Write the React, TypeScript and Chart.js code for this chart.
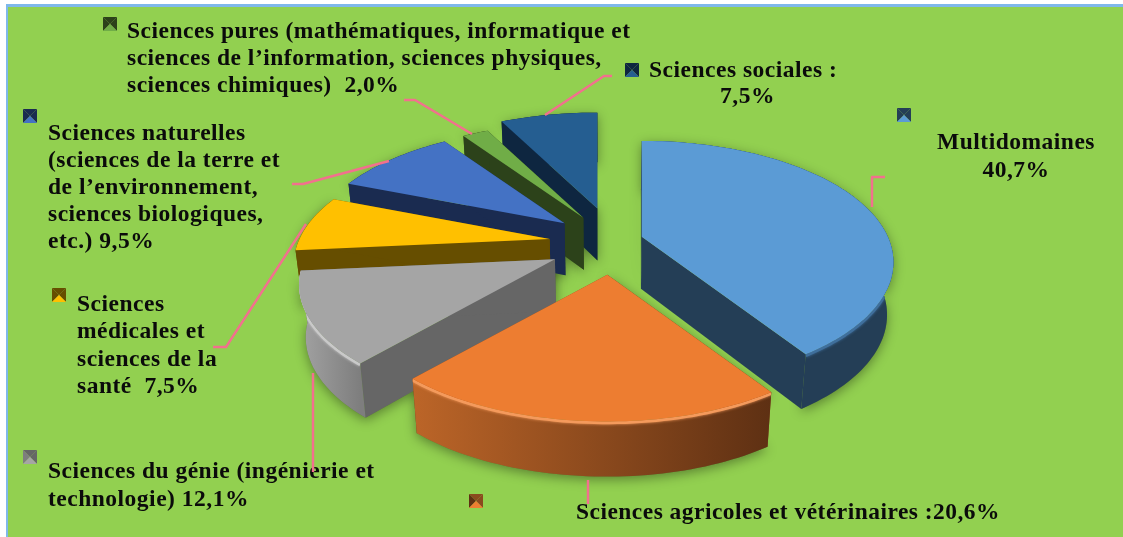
import React, { useEffect, useRef } from "react";
import { Chart, PieController, ArcElement } from "chart.js";

// ---- data -------------------------------------------------------------
const categories = [
  "Multidomaines",
  "Sciences agricoles et vétérinaires",
  "Sciences du génie (ingénierie et technologie)",
  "Sciences médicales et sciences de la santé",
  "Sciences naturelles",
  "Sciences pures",
  "Sciences sociales",
];
const values = [40.7, 20.6, 12.1, 7.5, 9.5, 2.0, 7.5];

const labelLines = [
  ["Multidomaines", "{v}"],
  ["Sciences agricoles et vétérinaires :{v}"],
  ["Sciences du génie (ingénierie et", "technologie) {v}"],
  ["Sciences", "médicales et", "sciences de la", "santé  {v}"],
  ["Sciences naturelles", "(sciences de la terre et", "de l’environnement,", "sciences biologiques,", "etc.) {v}"],
  ["Sciences pures (mathématiques, informatique et", "sciences de l’information, sciences physiques,", "sciences chimiques)  {v}"],
  ["Sciences sociales :", "{v}"],
];

// ---- styles -----------------------------------------------------------
const topColors = ["#5B9BD5", "#ED7D31", "#A5A5A5", "#FFC000", "#4472C4", "#70AD47", "#255E91"];
const cutColors = ["#243E56", "#8A4A1E", "#666666", "#664E00", "#1A2B50", "#2C421A", "#0E2640"];
const wallFrom = ["#243E56", "#BC6528", "#A3A3A3", "#664E00", "#1A2B50", "#2C421A", "#0E2640"];
const wallTo = ["#243E56", "#5E3013", "#7E7E7E", "#664E00", "#1A2B50", "#2C421A", "#0E2640"];
const rimColors = ["#3F6F9C", "#F49A5C", "#C9C9C9", null, null, null, null];
const explosion = [39, 52, 57, 55, 54, 50, 60];

const PAGE_GREEN = "#92D050";
const FRAME_BLUE = "#7FB8EA";
const LEADER = "#F2708E";

const RX = 246;
const RX_LEFT = 1.017;
const RY = 116;
const PERSPECTIVE = 0.21;
const DEPTH = 52;
const PULL_Y = 0.6;
const PULL_SKEW = 0.13;

const labelPlacement = [
  { x: 1016, y: 149, leading: 28, align: "center", width: 0 },
  { x: 576, y: 519, leading: 27, align: "left", width: 424 },
  { x: 48, y: 478, leading: 28, align: "left", width: 0 },
  { x: 77, y: 311, leading: 27.3, align: "left", width: 0 },
  { x: 48, y: 140, leading: 27, align: "left", width: 0 },
  { x: 127, y: 38, leading: 27, align: "left", width: 0 },
  { x: 649, y: 77, leading: 26, align: "left", width: 0 },
];
const markers = [[897, 108], [469, 494], [23, 450], [52, 288], [23, 109], [103, 17], [625, 63]];
const leaders = [
  [[872, 207], [872, 177], [885, 177]],
  [[588, 480], [588, 504]],
  [[313, 373], [313, 472]],
  [[213, 347], [226, 347], [306, 224]],
  [[292, 184], [303, 184], [389, 161]],
  [[404, 100], [415, 100], [472, 134]],
  [[545, 115], [604, 76], [612, 76]],
];

const FONT = 'bold 23.5px "Liberation Serif"';
const fmt = (v: number) => v.toFixed(1).replace(".", ",") + "%";

// ---- projection of the pie's own arcs onto a tilted plane -------------
function sliceOutline(arc: any) {
  const { x, y, startAngle, endAngle } = arc.getProps(["x", "y", "startAngle", "endAngle"]);
  const mid = (startAngle + endAngle) / 2;
  const off = arc.options.offset || 0;
  const ax = x + off * Math.cos(mid) + off * PULL_SKEW * Math.sin(mid) ** 2;
  const ay = y + off * PULL_Y * Math.sin(mid);
  const project = (a: number) => {
    const X = Math.cos(a);
    const Y = Math.sin(a);
    const s = 1 / (1 - PERSPECTIVE * Y);
    return { x: ax + RX * X * s * (X < 0 ? RX_LEFT : 1), y: ay + RY * Y * s, s };
  };
  const n = Math.max(4, Math.ceil((endAngle - startAngle) * 40));
  const rim = [];
  for (let i = 0; i <= n; i++) rim.push(project(startAngle + ((endAngle - startAngle) * i) / n));
  return { apex: { x: ax, y: ay, s: 1 }, rim, mid, cx: x };
}

function drop(p: any, cx: number) {
  return { x: p.x - (p.x - cx) * 0.022, y: p.y + DEPTH * Math.pow(p.s, 0.25), s: p.s };
}

function trace(ctx: CanvasRenderingContext2D, pts: any[], close = true) {
  ctx.beginPath();
  pts.forEach((p, i) => (i ? ctx.lineTo(p.x, p.y) : ctx.moveTo(p.x, p.y)));
  if (close) ctx.closePath();
}

class Pie3DController extends PieController {
  static id = "pie3d";
  static defaults = PieController.defaults;
  static overrides = PieController.overrides;
  draw() {
    const ctx = this.chart.ctx;
    const arcs: any[] = this.getMeta().data as any[];
    const shapes = arcs.map((arc, i) => ({ i, ...sliceOutline(arc) }));

    // soft ground shadow
    ctx.save();
    ctx.shadowColor = "rgba(0,0,0,0.38)";
    ctx.shadowBlur = 12;
    ctx.shadowOffsetY = 3;
    ctx.fillStyle = "rgba(90,130,50,1)";
    shapes.forEach((s) => {
      const low = s.rim.map((p) => drop(p, s.cx));
      trace(ctx, [s.apex, ...s.rim, ...low.reverse(), drop(s.apex, s.cx)]);
      ctx.fill();
    });
    ctx.restore();

    // back-to-front
    [...shapes]
      .sort((a, b) => Math.sin(a.mid) - Math.sin(b.mid))
      .forEach((s) => {
        const { i, apex, rim } = s;
        const low = rim.map((p) => drop(p, s.cx));
        const lowApex = drop(apex, s.cx);
        ctx.lineJoin = "round";
        // cut faces
        ctx.fillStyle = cutColors[i];
        trace(ctx, [apex, rim[0], low[0], lowApex]);
        ctx.fill();
        trace(ctx, [apex, rim[rim.length - 1], low[low.length - 1], lowApex]);
        ctx.fill();
        // outer wall
        const xs = rim.map((p) => p.x);
        const grad = ctx.createLinearGradient(Math.min(...xs), 0, Math.max(...xs), 0);
        grad.addColorStop(0, wallFrom[i]);
        grad.addColorStop(1, wallTo[i]);
        ctx.fillStyle = grad;
        trace(ctx, [...rim, ...[...low].reverse()]);
        ctx.fill();
        // bevel, kept on the wall and half hidden by the top face
        const rimColor = rimColors[i];
        if (rimColor) {
          ctx.save();
          trace(ctx, [...rim, ...[...low].reverse()]);
          ctx.clip();
          ctx.shadowColor = rimColor;
          ctx.shadowBlur = 3;
          ctx.strokeStyle = rimColor;
          ctx.lineWidth = 3.5;
          trace(ctx, rim.map((p) => ({ x: p.x, y: p.y + 1 })), false);
          ctx.stroke();
          ctx.restore();
        }
        // top face
        ctx.fillStyle = topColors[i];
        trace(ctx, [apex, ...rim]);
        ctx.fill();
      });
  }
}

Chart.register(Pie3DController, ArcElement);

const framePlugin = {
  id: "frame",
  beforeDraw(chart: any) {
    const { ctx, width, height } = chart;
    ctx.save();
    ctx.fillStyle = "#FFFFFF";
    ctx.fillRect(0, 0, width, height);
    ctx.fillStyle = FRAME_BLUE;
    ctx.fillRect(6, 4, width - 6, height - 4);
    ctx.fillStyle = PAGE_GREEN;
    ctx.fillRect(8, 7, width - 8, height - 7);
    ctx.restore();
  },
};

const annotationPlugin = {
  id: "annotations",
  afterDraw(chart: any) {
    const { ctx } = chart;
    ctx.save();
    // markers
    markers.forEach(([x, y], i) => {
      const S = 14;
      const c = { x: x + S / 2, y: y + S / 2 };
      const tris: [string, number[][]][] = [
        [cutColors[i], [[x, y], [x + S, y], [c.x, c.y]]],
        [wallTo[i], [[x, y], [x, y + S], [c.x, c.y]]],
        [cutColors[i], [[x + S, y], [x + S, y + S], [c.x, c.y]]],
        [topColors[i], [[x, y + S], [x + S, y + S], [c.x, c.y]]],
      ];
      tris.forEach(([col, pts]) => {
        ctx.fillStyle = col;
        ctx.beginPath();
        pts.forEach((p, k) => (k ? ctx.lineTo(p[0], p[1]) : ctx.moveTo(p[0], p[1])));
        ctx.closePath();
        ctx.fill();
      });
    });
    // labels
    ctx.fillStyle = "#0B0B0B";
    ctx.font = FONT;
    (ctx as any).letterSpacing = "0.5px";
    ctx.textBaseline = "alphabetic";
    labelLines.forEach((lines, i) => {
      const p = labelPlacement[i];
      lines.forEach((line, k) => {
        const text = line.replace("{v}", fmt(values[i]));
        let x = p.x;
        if (i === 6 && k === 1) x = 720;
        ctx.textAlign = p.align;
        if (p.width) ctx.fillText(text, x, p.y + k * p.leading, p.width);
        else ctx.fillText(text, x, p.y + k * p.leading);
      });
    });
    // leader lines
    ctx.strokeStyle = LEADER;
    ctx.lineWidth = 2.4;
    leaders.forEach((pts) => {
      ctx.beginPath();
      pts.forEach((p, k) => (k ? ctx.lineTo(p[0], p[1]) : ctx.moveTo(p[0], p[1])));
      ctx.stroke();
    });
    ctx.restore();
  },
};

export default function App() {
  const ref = useRef<HTMLCanvasElement | null>(null);
  useEffect(() => {
    document.body.style.margin = "0";
    const chart = new Chart(ref.current as HTMLCanvasElement, {
      type: "pie3d" as any,
      data: {
        labels: categories,
        datasets: [{ data: values, backgroundColor: topColors, offset: explosion, borderWidth: 0, hoverOffset: 0 } as any],
      },
      options: {
        responsive: false,
        animation: false,
        events: [],
        layout: { padding: { left: 85, bottom: 50 } },
        plugins: { legend: { display: false }, tooltip: { enabled: false } },
      } as any,
      plugins: [framePlugin, annotationPlugin],
    });
    return () => chart.destroy();
  }, []);
  return <canvas ref={ref} width={1123} height={537} style={{ display: "block" }} />;
}
